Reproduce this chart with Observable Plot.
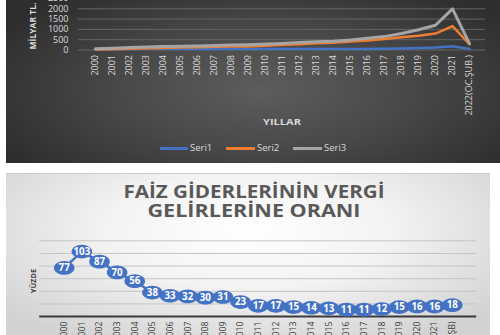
<!DOCTYPE html>
<html>
<head>
<meta charset="utf-8">
<script src="https://cdn.jsdelivr.net/npm/d3@7"></script>
<script src="https://cdn.jsdelivr.net/npm/@observablehq/plot@0.6"></script>
<style>
  html, body { margin: 0; padding: 0; background: #fff; }
  body { width: 500px; height: 335px; position: relative; overflow: hidden; font-family: "Open Sans", sans-serif; }
  #top { position: absolute; left: 6px; top: 0; width: 494px; height: 163px; overflow: hidden;
    background: radial-gradient(ellipse 60% 75% at 52% 55%, #5d5d5d 0%, #484848 50%, #2e2e2e 100%); }
  #bottom { position: absolute; left: 6px; top: 173px; width: 484px; height: 162px; overflow: hidden;
    background: radial-gradient(ellipse 65% 80% at 50% 35%, #ffffff 0%, #f3f3f3 45%, #d2d2d2 100%);
    border-top: 1px solid #cfcfcf; box-sizing: border-box; }
  .abs { position: absolute; white-space: nowrap; }
  #topchart, #botchart { position: absolute; left: -6px; top: 0; }
  .lg { position: absolute; height: 2.5px; top: 147px; }
  .lt { position: absolute; top: 141px; font-size: 9.5px; color: #d9d9d9; }
</style>
</head>
<body>
<div id="top">
  <div id="topchart"></div>
  <div class="abs" style="left:26px; top:26px; font-size:8.5px; font-weight:700; color:#d9d9d9; transform: translate(-50%,-50%) rotate(-90deg);">MİLYAR TL.</div>
  <div class="abs" style="left:276px; top:121px; font-size:8.5px; font-weight:700; color:#d9d9d9; transform: translate(-50%,-50%) scaleX(1.3);">YILLAR</div>
  <div class="lg" style="left:154px; width:28px; background:#4472C4;"></div>
  <div class="lt" style="left:184px;">Seri1</div>
  <div class="lg" style="left:220px; width:29px; background:#ED7D31;"></div>
  <div class="lt" style="left:251px;">Seri2</div>
  <div class="lg" style="left:287px; width:29px; background:#A5A5A5;"></div>
  <div class="lt" style="left:318px;">Seri3</div>
</div>
<div id="bottom">
  <div id="botchart"></div>
  <div class="abs title" style="left:247.5px; top:17px; font-size:17px; font-weight:700; color:#595959;">FAİZ GİDERLERİNİN VERGİ</div>
  <div class="abs title" style="left:247.5px; top:35.5px; font-size:17px; font-weight:700; color:#595959;">GELİRLERİNE ORANI</div>
  <div class="abs" style="left:27px; top:107px; font-size:7.5px; font-weight:700; color:#404040; transform: translate(-50%,-50%) rotate(-90deg);">YÜZDE</div>
</div>
<script>
// ---- Top chart data (Milyar TL) ----
const years = ["2000","2001","2002","2003","2004","2005","2006","2007","2008","2009","2010",
  "2011","2012","2013","2014","2015","2016","2017","2018","2019","2020","2021","2022(OC.ŞUB.)"];
const seri1 = [21, 41, 52, 59, 57, 45, 45, 49, 50, 53, 48, 43, 47, 49, 49, 53, 50, 59, 75, 101, 126, 186, 50];
const seri2 = [27, 40, 60, 84, 101, 119, 137, 152, 168, 172, 210, 253, 278, 326, 352, 407, 459, 536, 621, 690, 800, 1164, 280];
const seri3 = [60, 90, 120, 150, 170, 185, 200, 220, 240, 260, 290, 320, 360, 400, 430, 490, 570, 650, 800, 980, 1200, 2000, 310];
const topTicks = [0, 500, 1000, 1500, 2000, 2500];

// ---- Bottom chart data (Yüzde) ----
const oranYears = ["2000","2001","2002","2003","2004","2005","2006","2007","2008","2009","2010",
  "2011","2012","2013","2014","2015","2016","2017","2018","2019","2020","2021","2022(OC.ŞB)"];
const oran = [77, 103, 87, 70, 56, 38, 33, 32, 30, 31, 23, 17, 17, 15, 14, 13, 11, 11, 12, 15, 16, 16, 18];
const botTicks = [20, 40, 60, 80, 100, 120];

const rows = (vals) => years.map((y, i) => ({year: y, v: vals[i]}));

const topPlot = Plot.plot({
  width: 500, height: 163,
  marginLeft: 78, marginRight: 15, marginTop: 0, marginBottom: 113.5,
  style: {background: "transparent", fontFamily: "Open Sans", color: "#d9d9d9", overflow: "visible"},
  x: {type: "point", domain: years, range: [86, 477], label: null},
  y: {domain: [0, 2500], range: [49.5, -2], label: null},
  marks: [
    Plot.ruleY(topTicks, {stroke: "#646464", strokeWidth: 1}),
    Plot.axisY({ticks: topTicks, tickFormat: d => String(d), tickSize: 0, tickPadding: 10, fontSize: 9, fill: "#d9d9d9", label: null}),
    Plot.axisX({tickRotate: -90, tickSize: 0, tickPadding: 5, fontSize: 9, fill: "#d9d9d9", label: null}),
    Plot.line(rows(seri1), {x: "year", y: "v", stroke: "#4472C4", strokeWidth: 2.5}),
    Plot.line(rows(seri2), {x: "year", y: "v", stroke: "#ED7D31", strokeWidth: 2.5}),
    Plot.line(rows(seri3), {x: "year", y: "v", stroke: "#A5A5A5", strokeWidth: 3})
  ]
});
document.getElementById("topchart").appendChild(topPlot);

const ellipse = {
  draw(ctx, size) {
    const r = Math.sqrt(size / Math.PI);
    const rx = r * 1.5, ry = r, k = 0.5523;
    ctx.moveTo(rx, 0);
    ctx.bezierCurveTo(rx, ry * k, rx * k, ry, 0, ry);
    ctx.bezierCurveTo(-rx * k, ry, -rx, ry * k, -rx, 0);
    ctx.bezierCurveTo(-rx, -ry * k, -rx * k, -ry, 0, -ry);
    ctx.bezierCurveTo(rx * k, -ry, rx, -ry * k, rx, 0);
    ctx.closePath();
  }
};

const oranRows = oranYears.map((y, i) => ({year: y, v: oran[i]}));
const botPlot = Plot.plot({
  width: 500, height: 162,
  marginLeft: 40, marginRight: 14, marginTop: 0, marginBottom: 17,
  style: {background: "transparent", fontFamily: "Open Sans", color: "#404040", overflow: "visible"},
  x: {type: "point", domain: oranYears, range: [50, 476.7], label: null},
  y: {domain: [0, 120], range: [145, 67.7], label: null, axis: null},
  marks: [
    Plot.ruleY(botTicks, {stroke: "#c4c4c4", strokeWidth: 1}),
    Plot.ruleY([0], {stroke: "#3a3a3a", strokeWidth: 2}),
    Plot.axisX({tickRotate: -90, tickSize: 0, tickPadding: 5, fontSize: 9, fill: "#404040", label: null}),
    Plot.line(oranRows, {x: "year", y: "v", stroke: "#4472C4", strokeWidth: 2.5}),
    Plot.dot(oranRows, {x: "year", y: "v", r: 7, symbol: ellipse, fill: "#4472C4", stroke: "none"}),
    Plot.text(oranRows, {x: "year", y: "v", text: d => String(d.v), fill: "white", fontSize: 10, fontWeight: 700})
  ]
});
document.getElementById("botchart").appendChild(botPlot);

// stretch the title horizontally to the reference width
document.querySelectorAll(".title").forEach((el, i) => {
  const w = el.getBoundingClientRect().width;
  const target = i === 0 ? 261 : 213;
  el.style.transform = `translate(-50%,-50%) scaleX(${target / w})`;
});
</script>
</body>
</html>
